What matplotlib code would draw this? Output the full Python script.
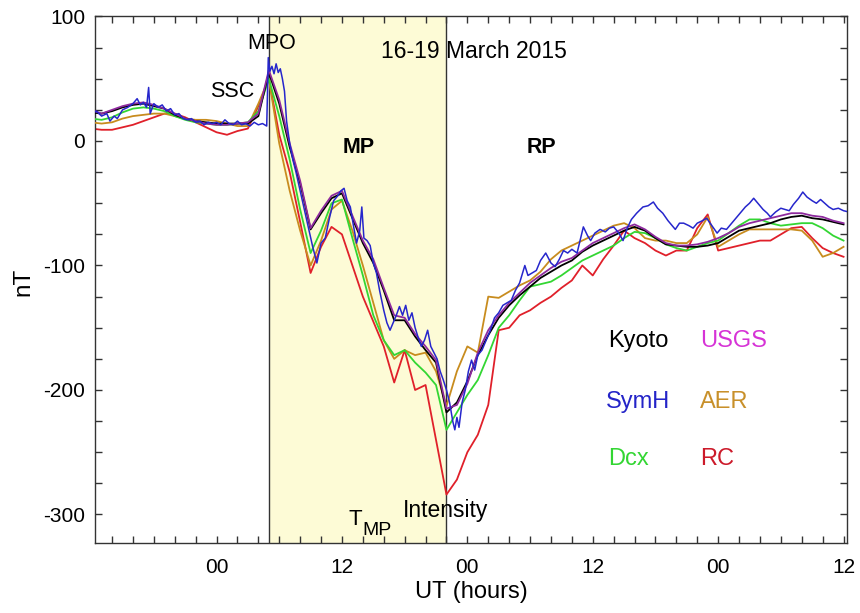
import matplotlib
matplotlib.use("Agg")
import matplotlib.pyplot as plt
from matplotlib.ticker import MultipleLocator, FuncFormatter

plt.rcParams['font.family'] = ['Liberation Sans', 'DejaVu Sans']

# Hours relative to 17 March 2015 00 UT
hours = list(range(-12, 61))

kyoto = [23, 22, 24, 27, 29, 30, 28, 26, 21, 18, 16, 15, 14, 14, 14, 14, 20, 55, 30, -5,
         -34, -71, -58, -46, -42, -62, -82, -98, -120, -144, -144, -157, -168, -178, -218, -210,
         -193, -172, -156, -142, -132, -124, -117, -110, -105, -100, -96, -89, -84, -80, -76, -72,
         -69, -72, -78, -83, -84, -85, -85, -84, -82, -77, -72, -70, -68, -66, -63, -61, -60, -62,
         -63, -65, -67]

usgs = [25, 22, 25, 28, 30, 31, 29, 26, 22, 18, 16, 14, 13, 13, 14, 15, 22, 57, 33, -2,
        -32, -70, -56, -44, -40, -60, -80, -95, -118, -140, -142, -155, -165, -176, -215, -212,
        -195, -170, -152, -140, -130, -122, -114, -108, -102, -97, -94, -88, -82, -78, -74, -70,
        -67, -71, -77, -82, -84, -84, -83, -81, -78, -74, -69, -66, -64, -62, -60, -58, -58, -60,
        -61, -64, -66]

dcx = [18, 17, 19, 23, 26, 27, 26, 24, 20, 17, 15, 14, 13, 13, 14, 15, 24, 50, 20, -15,
       -55, -90, -72, -50, -47, -78, -108, -140, -160, -172, -168, -178, -186, -196, -232, -218,
       -204, -192, -172, -150, -140, -128, -117, -115, -113, -108, -102, -96, -92, -88, -84, -78,
       -73, -74, -78, -83, -86, -88, -85, -82, -80, -74, -68, -63, -63, -66, -68, -67, -66, -66,
       -70, -76, -80]

rc = [10, 9, 9, 11, 13, 16, 19, 22, 22, 19, 15, 11, 7, 5, 8, 10, 28, 50, 5, -25,
      -65, -106, -85, -69, -75, -100, -125, -145, -165, -194, -168, -200, -196, -240, -284, -272,
      -250, -236, -212, -152, -150, -140, -136, -130, -125, -118, -112, -100, -108, -95, -84, -72,
      -78, -82, -88, -92, -88, -88, -70, -59, -88, -86, -84, -82, -80, -80, -75, -70, -69, -78,
      -86, -90, -93]

aer = [15, 14, 15, 18, 20, 21, 22, 22, 20, 18, 17, 17, 16, 14, 12, 12, 30, 50, -2, -40,
       -72, -100, -80, -55, -48, -72, -100, -130, -160, -175, -168, -172, -170, -185, -213, -185,
       -165, -170, -125, -126, -121, -116, -112, -105, -95, -88, -84, -80, -76, -72, -68, -66,
       -70, -78, -80, -80, -82, -82, -75, -61, -85, -80, -75, -71, -71, -71, -71, -71, -72, -80,
       -93, -90, -85]

# SYM-H, sampled more densely than the hourly indices
symh_t = [-12.0, -11.5, -11.0, -10.5, -10.2, -9.8, -9.5, -9.0, -8.5, -8.0, -7.6, -7.3, -7.0, -6.7,
          -6.5, -6.35, -6.0, -5.6, -5.2, -4.8, -4.4, -4.0, -3.6, -3.2, -2.8, -2.4, -2.0, -1.6,
          -1.2, -0.8, -0.4, 0.0, 0.4, 0.8, 1.2, 1.6, 2.0, 2.4, 2.8, 3.2, 3.6, 4.0, 4.4, 4.8,
          4.95, 5.1, 5.3, 5.5, 5.7, 5.9, 6.1, 6.3, 6.5, 6.7, 7.0, 7.3, 7.6, 8.0, 8.4, 8.8,
          9.2, 9.6, 10.0, 10.4, 10.8, 11.2, 11.6, 11.9, 12.2, 12.5, 12.8, 13.1, 13.4, 13.7,
          13.9, 14.1, 14.4, 14.7, 15.0, 15.3, 15.6, 16.0, 16.3, 16.6, 16.9, 17.2, 17.5, 17.8,
          18.1, 18.4, 18.7, 19.0, 19.3, 19.6, 19.9, 20.2, 20.5, 20.8, 21.1, 21.4, 21.7, 22.0,
          22.3, 22.6, 22.8, 23.0, 23.2, 23.5, 23.8, 24.1, 24.4, 24.7, 25.0, 25.4, 25.8, 26.2,
          26.6, 27.0, 27.4, 27.8, 28.2, 28.6, 29.0, 29.5, 29.8, 30.2, 30.6, 31.0, 31.5, 32.0,
          32.4, 32.8, 33.2, 33.6, 34.0, 34.5, 35.1, 35.5, 35.8, 36.2, 36.7, 37.2, 37.6, 38.0,
          38.5, 38.9, 39.3, 39.7, 40.2, 40.8, 41.3, 41.8, 42.2, 42.7, 43.2, 43.6, 43.9, 44.3,
          44.7, 45.2, 45.6, 46.0, 46.5, 46.9, 47.4, 47.9, 48.3, 48.8, 49.3, 49.7, 50.1, 50.6,
          51.0, 51.4, 51.8, 52.3, 52.7, 53.0, 53.5, 54.0, 54.4, 54.8, 55.2, 55.7, 56.1, 56.5,
          57.0, 57.4, 57.8, 58.2, 58.6, 59.0, 59.5, 60.0, 60.5]
symh_v = [22, 24, 20, 22, 16, 20, 18, 25, 27, 30, 34, 29, 31, 27,
          43, 22, 30, 27, 29, 24, 26, 21, 22, 18, 17, 18, 15, 16,
          13, 15, 14, 15, 13, 17, 14, 13, 16, 13, 14, 12, 15, 13, 14, 12,
          67, 56, 60, 54, 62, 55, 58, 50, 40, 16, -2, -15, -25, -40, -55, -70,
          -85, -98, -82, -78, -62, -48, -44, -40, -38, -48, -53, -68, -82, -72,
          -53, -78, -80, -84, -98, -106, -120, -136, -146, -152, -146, -140, -133, -140,
          -132, -144, -138, -150, -158, -165, -160, -152, -165, -170, -175, -185, -192, -200,
          -210, -225, -232, -222, -230, -210, -200, -185, -176, -184, -172, -168, -160, -152,
          -142, -138, -132, -130, -128, -120, -114, -100, -108, -106, -104, -96, -90, -98,
          -101, -95, -88, -90, -87, -90, -69, -76, -80, -74, -71, -73, -70, -69,
          -74, -80, -70, -63, -58, -53, -52, -49, -54, -58, -64, -68, -71, -66,
          -66, -68, -70, -66, -64, -62, -68, -74, -70, -71, -66, -62, -58, -53,
          -50, -46, -50, -55, -58, -61, -57, -54, -55, -56, -51, -46, -41, -45,
          -48, -50, -47, -50, -53, -55, -54, -56, -57]

ssc_hour = 5.0
dst_min_hour = 22.0

tick_hours = [0, 12, 24, 36, 48, 60]
tick_names = ['00', '12', '00', '12', '00', '12']

fig = plt.figure(figsize=(8.6, 6.13), dpi=100)
ax = fig.add_axes([0.1105, 0.1142, 0.8745, 0.8597])

ax.axvspan(ssc_hour, dst_min_hour, color='#fdfbd6', zorder=0, lw=0)
ax.axvline(ssc_hour, color='#333333', lw=1.0, zorder=1)
ax.axvline(dst_min_hour, color='#333333', lw=1.0, zorder=1)

lw = 1.3
ax.plot(hours, rc, color='#e0202a', lw=lw, zorder=2)
ax.plot(hours, aer, color='#c88c1e', lw=lw, zorder=3)
ax.plot(hours, dcx, color='#33d633', lw=lw, zorder=4)
ax.plot(hours, kyoto, color='black', lw=lw, zorder=5)
ax.plot(hours, usgs, color='#8e2a9e', lw=lw, zorder=6)
ax.plot(symh_t, symh_v, color='#2626cc', lw=1.1, zorder=7)

ax.set_xlim(-11.63, 60.34)
ax.set_ylim(-322.9, 100.4)

ax.xaxis.set_major_locator(MultipleLocator(2))
ax.yaxis.set_major_locator(MultipleLocator(25))


def xfmt(v, pos):
    h = int(round(v))
    if h in tick_hours:
        return tick_names[tick_hours.index(h)]
    return ''


def yfmt(v, pos):
    iv = int(round(v))
    if iv % 100 == 0:
        return str(iv)
    return ''


ax.xaxis.set_major_formatter(FuncFormatter(xfmt))
ax.yaxis.set_major_formatter(FuncFormatter(yfmt))
ax.tick_params(axis='both', direction='in', length=5, width=1.0, color='#333333',
               top=True, right=True, labelsize=15)
ax.tick_params(axis='x', pad=11)
ax.tick_params(axis='y', pad=7)
for s in ax.spines.values():
    s.set_color('#333333')
    s.set_linewidth(1.0)

ax.set_xlabel('UT (hours)', fontsize=17)
ax.xaxis.set_label_coords(0.5, -0.072)
ax.set_ylabel('nT', fontsize=17.5)
ax.yaxis.set_label_coords(-0.081, 0.495)

ax.text(5.31, 78, 'MPO', fontsize=15.5, ha='center', va='center', zorder=8)
ax.text(1.48, 40, 'SSC', fontsize=15.5, ha='center', va='center', zorder=8)
ax.text(24.6, 71.5, '16-19 March 2015', fontsize=16.5, ha='center', va='center', zorder=8)
ax.text(13.6, -5, 'MP', fontsize=15.5, fontweight='bold', ha='center', va='center', zorder=8)
ax.text(31.05, -5, 'RP', fontsize=15.5, fontweight='bold', ha='center', va='center', zorder=8)
ax.text(13.95, -304, 'T', fontsize=16, ha='right', va='center', zorder=8)
ax.text(14.0, -313, 'MP', fontsize=14, ha='left', va='center', zorder=8)
ax.text(21.96, -297, 'Intensity', fontsize=16.5, ha='center', va='center', zorder=8)

legend_items = [('Kyoto', 'black', 37.46, -160.6),
                ('USGS', '#d633d6', 46.27, -160.6),
                ('SymH', '#2424c8', 37.3, -209.6),
                ('AER', '#c8902a', 46.27, -209.6),
                ('Dcx', '#33d633', 37.46, -255.4),
                ('RC', '#cc1a2a', 46.27, -255.4)]
for name, col, hx, vy in legend_items:
    ax.text(hx, vy, name, color=col, fontsize=17, ha='left', va='center', zorder=8)

fig.savefig('out.png', dpi=100)
